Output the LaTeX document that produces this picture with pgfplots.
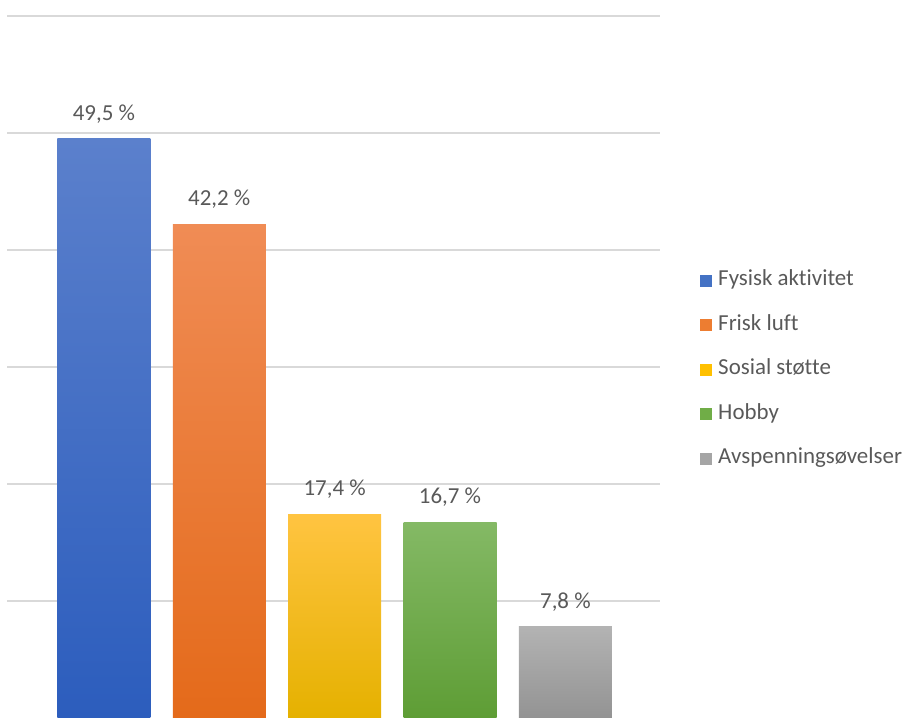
\documentclass[border=0pt]{standalone}
\usepackage{fontspec}
\setmainfont{Carlito}[Ligatures={NoCommon}]
\usepackage{pgfplots}
\pgfplotsset{compat=1.18}
\definecolor{txt}{HTML}{595959}
\definecolor{grid}{HTML}{D9D9D9}
\definecolor{c1}{HTML}{4472C4}\definecolor{c1t}{HTML}{5B80CC}\definecolor{c1b}{HTML}{2C5DBD}
\definecolor{c2}{HTML}{ED7D31}\definecolor{c2t}{HTML}{F08C55}\definecolor{c2b}{HTML}{E46A1A}
\definecolor{c3}{HTML}{FFC000}\definecolor{c3t}{HTML}{FFC441}\definecolor{c3b}{HTML}{E5B100}
\definecolor{c4}{HTML}{70AD47}\definecolor{c4t}{HTML}{84B965}\definecolor{c4b}{HTML}{5E9D35}
\definecolor{c5}{HTML}{A5A5A5}\definecolor{c5t}{HTML}{B3B3B3}\definecolor{c5b}{HTML}{939393}
\begin{document}
\begin{tikzpicture}
\useasboundingbox (0,0) rectangle (905bp,718bp);
\begin{axis}[
  at={(7bp,0bp)}, anchor=south west,
  scale only axis, width=653bp, height=702bp,
  xmin=-0.84, xmax=4.82, ymin=0, ymax=60,
  axis line style={draw=none},
  ytick={10,20,30,40,50,60}, yticklabels={}, xtick=\empty,
  major tick length=0pt,
  ymajorgrids, grid style={color=grid, line width=1.3bp},
  clip=false,
  mybar/.style={ybar, bar width=0.806, bar shift=0pt, draw=none, forget plot,
    nodes near coords={\pgfmathprintnumber[fixed,fixed zerofill,precision=1,use comma,assume math mode=true]{\pgfplotspointmeta}~\%},
    every node near coord/.append style={anchor=south, inner sep=0pt, yshift=15.5bp,
      font=\fontsize{23}{27}\selectfont, text=txt}},
  legend image code/.code={\fill[#1] (0bp,-6bp) rectangle (12bp,6bp); \path (18bp,0bp);},
  legend style={at={(axis description cs:1.0613,0.496)}, anchor=west, draw=none, fill=none,
    inner sep=0pt, row sep=24.5bp, font=\fontsize{23}{27}\selectfont, text=txt,
    nodes={inner sep=0pt, text height=15bp, text depth=5bp}},
  legend cell align=left,
]
\addplot[mybar, top color=c1t, bottom color=c1b] coordinates {(0,49.5)};
\addplot[mybar, top color=c2t, bottom color=c2b] coordinates {(1,42.2)};
\addplot[mybar, top color=c3t, bottom color=c3b] coordinates {(2,17.4)};
\addplot[mybar, top color=c4t, bottom color=c4b] coordinates {(3,16.7)};
\addplot[mybar, top color=c5t, bottom color=c5b] coordinates {(4,7.8)};
\addlegendimage{fill=c1, draw=none}\addlegendentry{Fysisk aktivitet}
\addlegendimage{fill=c2, draw=none}\addlegendentry{Frisk luft}
\addlegendimage{fill=c3, draw=none}\addlegendentry{Sosial støtte}
\addlegendimage{fill=c4, draw=none}\addlegendentry{Hobby}
\addlegendimage{fill=c5, draw=none}\addlegendentry{Avspenningsøvelser}
\end{axis}
\end{tikzpicture}
\end{document}
